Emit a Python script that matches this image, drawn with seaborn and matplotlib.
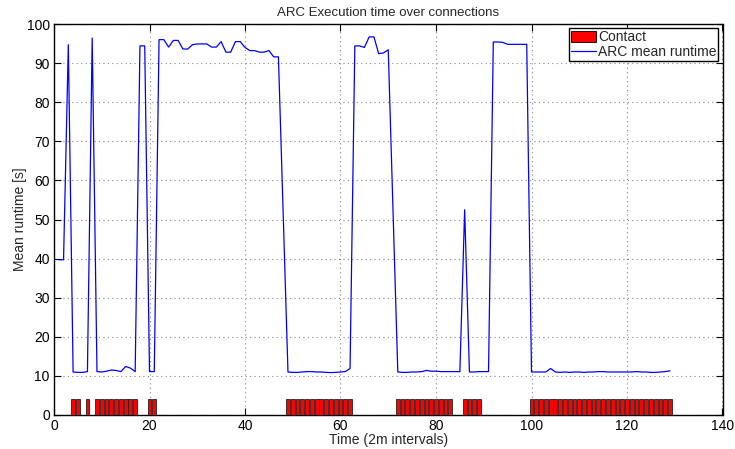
import numpy as np
import pandas as pd
import matplotlib
matplotlib.use("Agg")
import matplotlib.pyplot as plt
import seaborn as sns
from matplotlib.patches import Patch
from matplotlib.lines import Line2D

# ---- data ----
contact_x = [4, 5, 7, 9, 10, 11, 12, 13, 14, 15, 16, 17, 20, 21,
             49, 50, 51, 52, 53, 54, 55, 56, 57, 58, 59, 60, 61, 62,
             72, 73, 74, 75, 76, 77, 78, 79, 80, 81, 82, 83,
             86, 87, 88, 89,
             100, 101, 102, 103, 104, 105, 106, 107, 108, 109, 110, 111, 112, 113, 114,
             115, 116, 117, 118, 119, 120, 121, 122, 123, 124, 125, 126, 127, 128, 129]
contact_h = [4] * len(contact_x)

runtime_x = [1, 2, 3, 4, 5, 6, 7, 8, 9, 10, 11, 12, 13, 14, 15, 16, 17, 18, 19, 20,
             21, 22, 23, 24, 25, 26, 27, 28, 29, 30, 31, 32, 33, 34, 35, 36, 37, 38, 39, 40,
             41, 42, 43, 44, 45, 46, 47, 49, 50, 51, 52, 53, 54, 55, 56, 57, 58, 59, 60,
             61, 62, 63, 64, 65, 66, 67, 68, 69, 70, 72, 73, 74, 75, 76, 77, 78, 79, 80,
             81, 82, 83, 84, 85, 86, 87, 88, 89, 90, 91, 92, 93, 94, 95, 96, 97, 98, 99, 100,
             101, 102, 103, 104, 105, 106, 107, 108, 109, 110, 111, 112, 113, 114, 115,
             116, 117, 118, 119, 120, 121, 122, 123, 124, 125, 126, 127, 128, 129]
runtime_y = [39.7, 39.7, 94.7, 11.0, 10.9, 10.9, 11.1, 96.4, 11.1, 11.0, 11.2, 11.5, 11.4, 11.1, 12.4, 12.0, 11.1, 94.4, 94.4, 11.1,
             11.1, 96.0, 96.0, 94.1, 95.8, 95.8, 93.6, 93.6, 94.7, 94.9, 94.9, 94.9, 94.1, 94.1, 95.5, 92.8, 92.8, 95.5, 95.5, 94.0,
             93.2, 93.2, 92.8, 92.8, 93.2, 91.6, 91.6, 11.0, 10.9, 10.9, 11.0, 11.1, 11.1, 11.0, 11.0, 10.9, 10.85, 10.9, 11.0,
             11.1, 11.9, 94.4, 94.4, 94.0, 96.7, 96.7, 92.4, 92.6, 93.4, 11.0, 10.9, 10.9, 11.0, 11.0, 11.1, 11.4, 11.2, 11.2,
             11.1, 11.1, 11.1, 11.1, 11.1, 52.5, 11.0, 11.0, 11.1, 11.1, 11.1, 95.4, 95.4, 95.3, 94.8, 94.8, 94.8, 94.8, 94.8, 11.0,
             11.0, 11.0, 11.0, 11.9, 11.0, 10.9, 11.0, 10.9, 11.0, 11.0, 10.9, 11.0, 11.0, 11.1, 11.1,
             11.0, 11.0, 11.0, 11.0, 11.0, 11.0, 11.1, 11.0, 11.0, 10.9, 10.9, 11.0, 11.1, 11.3]

title = "ARC Execution time over connections"
xlabel = "Time (2m intervals)"
ylabel = "Mean runtime [s]"
legend_labels = ["Contact", "ARC mean runtime"]
xticks = [0, 20, 40, 60, 80, 100, 120, 140]
yticks = [0, 10, 20, 30, 40, 50, 60, 70, 80, 90, 100]

# ---- style ----
sns.set_style("ticks")
plt.rcParams["font.family"] = ["Liberation Sans", "DejaVu Sans"]
plt.rcParams["font.size"] = 9

fig = plt.figure(figsize=(7.35, 4.49), dpi=100)
ax = fig.add_axes([54 / 735, 1 - 415 / 449, (722.5 - 54) / 735, (415 - 24) / 449])

bars_df = pd.DataFrame({"x": contact_x, "h": contact_h})
line_df = pd.DataFrame({"x": runtime_x, "y": runtime_y})

sns.barplot(data=bars_df, x="x", y="h", native_scale=True, width=0.8,
            color="#ff0000", saturation=1, edgecolor="#222222", linewidth=0.6,
            errorbar=None, ax=ax, zorder=3)
sns.lineplot(data=line_df, x="x", y="y", color="#0000ff", linewidth=0.9,
             ax=ax, zorder=4, sort=False)

ax.set_xlim(0, 140)
ax.set_ylim(0, 100)
ax.set_xticks(xticks)
ax.set_yticks(yticks)
ax.set_xticklabels([str(t) for t in xticks], fontsize=10)
ax.set_yticklabels([str(t) for t in yticks], fontsize=10)
ax.tick_params(direction="in", length=5, width=0.8, top=True, right=True, pad=3, colors="black")
ax.grid(True, linestyle=(0, (1, 3)), color="#888888", linewidth=0.8)
ax.set_axisbelow(True)
for s in ax.spines.values():
    s.set_visible(True)
    s.set_color("black")
    s.set_linewidth(1.0)

ax.set_title(title, fontsize=9.5, pad=6)
ax.set_xlabel(xlabel, fontsize=10, labelpad=0)
ax.set_ylabel(ylabel, fontsize=10, labelpad=0)

handles = [Patch(facecolor="#ff0000", edgecolor="black", linewidth=0.6),
           Line2D([0], [0], color="#0000ff", linewidth=0.9)]
leg = ax.legend(handles, legend_labels, loc="upper right", fontsize=10,
                frameon=True, fancybox=False, framealpha=1, edgecolor="black",
                borderaxespad=0.3, handlelength=1.8, handletextpad=0.1,
                labelspacing=0.05, borderpad=0.15, handleheight=0.9)
leg.get_frame().set_linewidth(1.0)

fig.savefig("out.png", dpi=100)
